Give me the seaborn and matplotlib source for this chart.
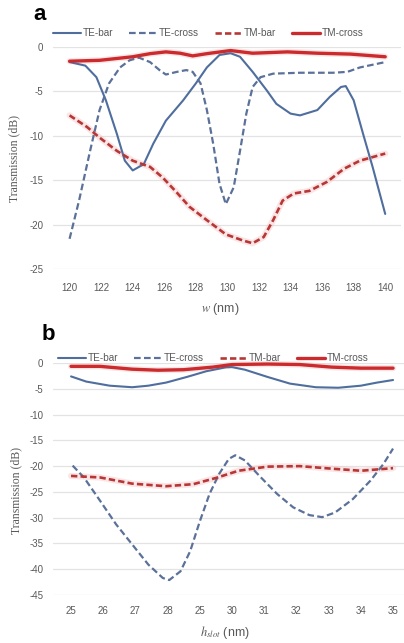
import pandas as pd
import matplotlib.pyplot as plt
import seaborn as sns

# --- panel a: transmission vs w ---
te_bar_a_x = [120, 121, 121.7, 122.3, 123, 123.5, 124, 124.7, 125.3, 126.1, 127.2, 128, 128.7, 129.5,
              130.2, 130.8, 131.6, 132.5, 133.1, 134, 134.6, 135.7, 136.5, 137.2, 137.5, 138, 138.6,
              139.2, 140]
te_bar_a_y = [-1.7, -2.1, -3.4, -6.0, -9.8, -12.8, -13.9, -13.2, -10.9, -8.3, -6.0, -4.1, -2.3, -0.9,
              -0.7, -1.1, -2.8, -4.9, -6.4, -7.5, -7.7, -7.1, -5.6, -4.5, -4.4, -6.0, -9.8,
              -13.5, -18.8]

te_cross_a_x = [120, 120.6, 121.3, 121.9, 122.5, 123.2, 123.8, 124.4, 125.1, 125.7, 126.1, 126.8, 127.4,
                127.8, 128.3, 128.7, 129.1, 129.5, 129.9, 130.4, 130.8, 131.2, 131.6, 132.1, 132.9,
                134.6, 136.7, 137.6, 138.4, 140]
te_cross_a_y = [-21.6, -17.3, -11.7, -7.1, -4.1, -2.3, -1.5, -1.2, -1.7, -2.6, -3.1, -2.8, -2.6,
                -2.8, -4.1, -7.1, -10.9, -15.4, -17.7, -15.8, -11.7, -7.5, -4.5, -3.4, -3.0,
                -2.9, -2.9, -2.8, -2.3, -1.7]

tm_bar_a_x = [120, 121.1, 121.9, 123, 124, 125.1, 125.9, 126.8, 127.6, 128.7, 129.9, 131, 131.6, 132.3,
              132.9, 133.5, 134.2, 135.2, 136.3, 137.4, 138.4, 140]
tm_bar_a_y = [-7.7, -9.0, -10.2, -11.7, -12.8, -13.5, -14.7, -16.4, -18.0, -19.5, -21.1, -21.8, -22.1,
              -21.4, -19.5, -17.3, -16.5, -16.2, -15.2, -13.7, -12.8, -12.0]

tm_cross_a_x = [120, 121.9, 124, 125.1, 126.1, 127, 127.8, 128.7, 130.2, 131.6, 133.8, 135.7, 137.8, 140]
tm_cross_a_y = [-1.6, -1.5, -1.1, -0.75, -0.55, -0.7, -1.0, -0.75, -0.4, -0.7, -0.55, -0.7, -0.8, -1.1]

# --- panel b: transmission vs h_slot ---
te_bar_b_x = [25, 25.47, 26.2, 26.9, 27.4, 27.95, 28.6, 29.2, 29.8, 30, 30.4, 31.1, 31.8, 32.6, 33.3,
              34, 34.5, 35]
te_bar_b_y = [-2.6, -3.6, -4.4, -4.7, -4.4, -3.8, -2.7, -1.6, -0.85, -0.8, -1.3, -2.7, -4.0, -4.7, -4.8,
              -4.4, -3.8, -3.3]

te_cross_b_x = [25.05, 25.4, 25.9, 26.4, 26.9, 27.4, 27.85, 28.05, 28.4, 28.7, 29.0, 29.3, 29.6, 29.9,
                30.1, 30.4, 30.85, 31.4, 31.9, 32.4, 32.8, 33.2, 33.75, 34.3, 34.7, 35]
te_cross_b_y = [-19.9, -22.2, -26.7, -31.3, -35.2, -39.1, -41.7, -42.1, -40.4, -36.5, -30.7, -25.4,
                -21.5, -18.6, -17.9, -18.9, -21.9, -25.4, -28.0, -29.5, -29.9, -29.0, -26.4, -22.8,
                -19.6, -16.6]

tm_bar_b_x = [25, 25.9, 26.9, 27.95, 28.8, 29.5, 30.2, 31.1, 32.1, 33.1, 34, 35]
tm_bar_b_y = [-21.9, -22.2, -23.4, -23.9, -23.5, -22.3, -20.9, -20.1, -20.0, -20.5, -20.9, -20.4]

tm_cross_b_x = [25, 25.9, 26.9, 27.7, 28.5, 29.4, 30, 31.1, 32.1, 33.1, 34, 35]
tm_cross_b_y = [-0.65, -0.65, -1.2, -1.4, -1.3, -0.8, -0.3, -0.2, -0.3, -0.8, -1.0, -1.0]

series_names = ["TE-bar", "TE-cross", "TM-bar", "TM-cross"]
w_ticks = [120, 122, 124, 126, 128, 130, 132, 134, 136, 138, 140]
h_ticks = [25, 26, 27, 28, 29, 30, 31, 32, 33, 34, 35]
tick_labels_b = ["25", "26", "27", "28", "25", "30", "31", "32", "33", "34", "35"]


def build_df(parts):
    frames = []
    for name, xs, ys in parts:
        frames.append(pd.DataFrame({"x": xs, "y": ys, "series": name}))
    return pd.concat(frames, ignore_index=True)


df_a = build_df(zip(series_names, [te_bar_a_x, te_cross_a_x, tm_bar_a_x, tm_cross_a_x],
                    [te_bar_a_y, te_cross_a_y, tm_bar_a_y, tm_cross_a_y]))
df_b = build_df(zip(series_names, [te_bar_b_x, te_cross_b_x, tm_bar_b_x, tm_cross_b_x],
                    [te_bar_b_y, te_cross_b_y, tm_bar_b_y, tm_cross_b_y]))

sns.set_theme(style="white")
plt.rcParams["font.family"] = ["Liberation Sans", "DejaVu Sans"]
plt.rcParams["axes.unicode_minus"] = False
plt.rcParams["mathtext.fontset"] = "stix"

palette = {"TE-bar": "#4f6e9e", "TE-cross": "#5b7199", "TM-bar": "#b83636", "TM-cross": "#cc2b2e"}
dashes = {"TE-bar": "", "TE-cross": (3, 1.5), "TM-bar": (2.4, 1.2), "TM-cross": ""}
sizes = {"TE-bar": 1.5, "TE-cross": 1.6, "TM-bar": 1.9, "TM-cross": 2.4}
grey = "#595959"

fig = plt.figure(figsize=(4.04, 6.43), dpi=100)
ax_a = fig.add_axes([53 / 404, 1 - 269 / 643, (401 - 53) / 404, (269 - 47) / 643])
ax_b = fig.add_axes([53 / 404, 1 - 595 / 643, (404 - 53) / 404, (595 - 363) / 643])


def draw(ax, df, xlim, ylim, yticks, xticks, xticklabels, xlabel, leg_xy, xpad, label, label_xy):
    # faint pink halo under the red curves, like the blurred original
    for name in ["TM-bar", "TM-cross"]:
        sub = df[df["series"] == name]
        ax.plot(sub["x"], sub["y"], color="#f3b9b9", lw=4.5, alpha=0.35, zorder=1,
                solid_capstyle="round", clip_on=False)
    sns.lineplot(data=df, x="x", y="y", hue="series", style="series", size="series",
                 palette=palette, dashes=dashes, sizes=sizes, hue_order=series_names,
                 style_order=series_names, size_order=series_names, ax=ax, zorder=3,
                 estimator=None, sort=False)
    for ln in ax.lines:
        ln.set_clip_on(False)
    ax.set_xlim(*xlim)
    ax.set_ylim(*ylim)
    ax.set_yticks(yticks)
    ax.set_xticks(xticks)
    ax.set_xticklabels(xticklabels)
    ax.grid(axis="y", color="#e3e3e3", lw=0.9)
    ax.grid(axis="x", visible=False)
    for sp in ax.spines.values():
        sp.set_visible(False)
    ax.tick_params(axis="both", length=0, labelsize=7, labelcolor=grey)
    ax.tick_params(axis="x", pad=xpad)
    ax.tick_params(axis="y", pad=7)
    ax.set_xlabel(xlabel, fontsize=9, color=grey)
    ax.set_ylabel("Transmission (dB)", fontsize=8.5, color=grey, family="Liberation Serif")
    sns.move_legend(ax, "center left", bbox_to_anchor=(leg_xy[0] / 404, 1 - leg_xy[1] / 643),
                    bbox_transform=fig.transFigure, ncol=4, frameon=False, title=None,
                    fontsize=7.2, handlelength=2.8, handletextpad=0.15, columnspacing=1.6,
                    labelcolor=grey, borderaxespad=0, borderpad=0)
    fig.text(label_xy[0] / 404, 1 - label_xy[1] / 643, label, fontsize=16, fontweight="bold",
             ha="center", va="center", color="black")


draw(ax_a, df_a, (118.95, 141.0), (-25, 0), [0, -5, -10, -15, -20, -25], w_ticks,
     [str(t) for t in w_ticks], r"$w$ (nm)", (53, 33), 10, "a", (40, 14))
draw(ax_b, df_b, (24.44, 35.34), (-45, 0), list(range(0, -50, -5)), h_ticks,
     tick_labels_b, r"$h_{slot}$ (nm)", (58, 358), 8, "b", (48, 335))

ax_a.xaxis.set_label_coords(0.48, -0.145)
ax_a.yaxis.set_label_coords(-0.095, 0.5)
ax_b.xaxis.set_label_coords(0.49, -0.125)
ax_b.yaxis.set_label_coords(-0.088, 0.45)

plt.savefig("out.png", dpi=100)
